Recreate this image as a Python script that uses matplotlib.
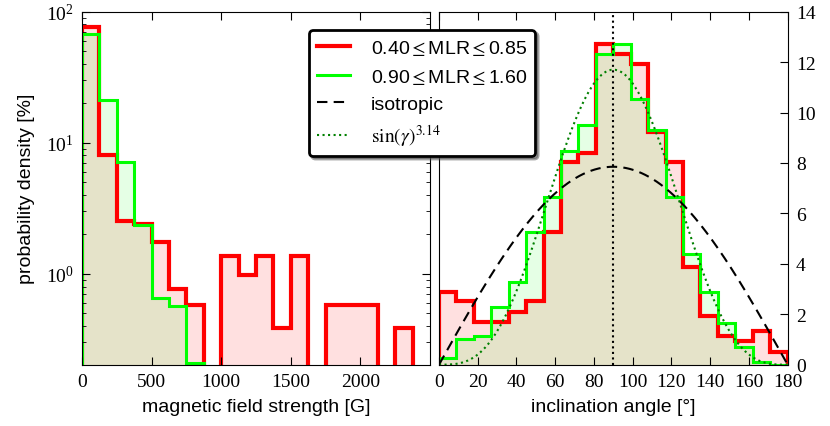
import numpy as np
import matplotlib.pyplot as plt
from matplotlib.lines import Line2D

plt.rcParams['font.family'] = 'serif'
plt.rcParams['font.serif'] = ['Liberation Serif', 'DejaVu Serif']
plt.rcParams['mathtext.fontset'] = 'stix'
plt.rcParams['font.size'] = 14

# left panel: magnetic field strength histogram, 125 G bins
b_edges = np.arange(0, 2501, 125)
b_low = [77, 8.0, 2.55, 2.40, 1.74, 0.77, 0.58, 0, 1.36, 0.98,
         1.36, 0.39, 1.36, 0, 0.58, 0.58, 0.58, 0, 0.39, 0]
b_high = [68, 21.3, 7.1, 2.36, 0.65, 0.57, 0.21, 0, 0, 0,
          0, 0, 0, 0, 0, 0, 0, 0, 0, 0]

# right panel: inclination angle histogram, 9 degree bins
g_edges = np.arange(0, 181, 9)
g_low = [2.90, 2.54, 1.71, 1.71, 2.10, 2.54, 5.25, 8.02, 8.39, 12.72,
         12.32, 11.92, 9.21, 8.02, 3.86, 1.94, 1.15, 0.95, 1.35, 0.52]
g_high = [0.25, 1.02, 1.15, 2.27, 3.29, 5.25, 6.64, 8.49, 9.51, 12.32,
          12.72, 10.54, 9.32, 6.64, 4.39, 2.90, 1.65, 0.69, 0.12, 0.0]

# model curves
iso_peak = 7.85
sin_peak = 11.7
sin_exp = 3.14

lab_low = r'0.40$\leq$MLR$\leq$0.85'
lab_high = r'0.90$\leq$MLR$\leq$1.60'

red = '#ff0000'
green = '#00ff00'
sans = 'Liberation Sans'

fig = plt.figure(figsize=(8.3, 4.27), dpi=100)
ax1 = fig.add_axes([0.0988, 0.1436, 0.4193, 0.8267])
ax2 = fig.add_axes([0.5289, 0.1436, 0.4201, 0.8267])

# --- left panel (log) ---
lo = np.where(np.array(b_low) > 0, b_low, 1e-3)
hi = np.where(np.array(b_high) > 0, b_high, 1e-3)
ax1.stairs(lo, b_edges, baseline=1e-3, fill=True, color=red, alpha=0.12, lw=0)
ax1.stairs(hi, b_edges, baseline=1e-3, fill=True, color=green, alpha=0.10, lw=0)
ax1.stairs(lo, b_edges, baseline=1e-3, color=red, lw=3)
ax1.stairs(hi, b_edges, baseline=1e-3, color=green, lw=2.2)
ax1.set_yscale('log')
ax1.set_xlim(0, 2500)
ax1.set_ylim(0.203, 100)
ax1.set_xticks([0, 500, 1000, 1500, 2000])
ax1.set_xlabel('magnetic field strength [G]', fontfamily=sans, labelpad=6)
ax1.set_ylabel('probability density [%]', fontfamily=sans, labelpad=8)
ax1.tick_params(which='both', direction='in', top=True, right=True, pad=6)
ax1.tick_params(which='major', length=6)
ax1.tick_params(which='minor', length=3)

# --- right panel (linear) ---
ax2.stairs(g_low, g_edges, fill=True, color=red, alpha=0.12, lw=0)
ax2.stairs(g_high, g_edges, fill=True, color=green, alpha=0.10, lw=0)
ax2.stairs(g_low, g_edges, color=red, lw=3)
ax2.stairs(g_high, g_edges, color=green, lw=2.2)
gam = np.linspace(0, 180, 361)
rad = np.radians(gam)
ax2.plot(gam, iso_peak * np.sin(rad), color='k', lw=1.5, dashes=(5, 3))
ax2.plot(gam, sin_peak * np.sin(rad) ** sin_exp, color='g', lw=1.5, ls=':')
ax2.axvline(90, color='k', lw=1.5, ls=':')
ax2.set_xlim(0, 180)
ax2.set_ylim(0, 14)
ax2.set_xticks(np.arange(0, 181, 20))
ax2.set_yticks(np.arange(0, 15, 2))
ax2.set_xlabel('inclination angle [°]', fontfamily=sans, labelpad=6)
ax2.tick_params(direction='in', length=6, top=True, left=False, right=True,
                labelleft=False, labelright=True, pad=6)

handles = [Line2D([], [], color=red, lw=3),
           Line2D([], [], color=green, lw=2.2),
           Line2D([], [], color='k', lw=1.5, dashes=(5, 3)),
           Line2D([], [], color='g', lw=1.5, ls=':')]
labels = [lab_low, lab_high, 'isotropic', r'$\sin(\gamma)^{3.14}$']
leg = fig.legend(handles, labels, loc='upper left', borderaxespad=0,
                 bbox_to_anchor=(0.3723, 0.9274), shadow=True, fancybox=True,
                 framealpha=1, edgecolor='k', handlelength=1.7,
                 handletextpad=1.1, prop={'family': sans, 'size': 14})
leg.get_frame().set_linewidth(2)

fig.savefig('out.png', dpi=100)
